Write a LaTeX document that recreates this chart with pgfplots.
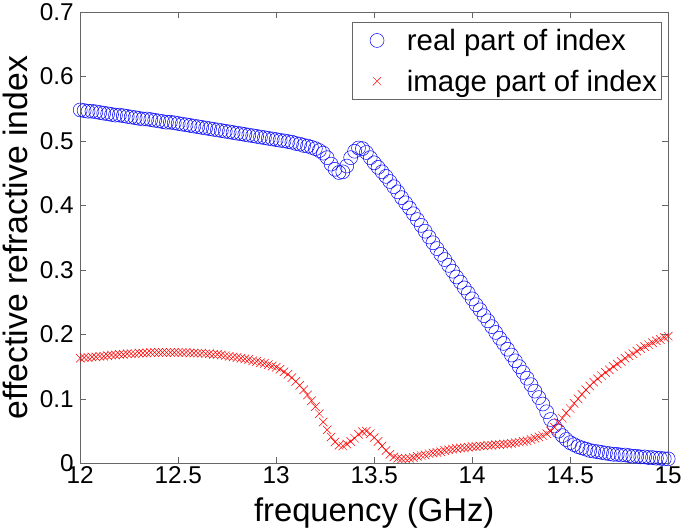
\documentclass[border=0pt]{standalone}
\usepackage{pgfplots}
\pgfplotsset{compat=1.18}
\usepackage{pgfplotstable}
\usepackage{fontspec}
\setmainfont{Liberation Sans}
\pgfplotstableread{
x re im
12.00 0.548 0.163
12.02 0.547 0.164
12.04 0.546 0.164
12.06 0.546 0.165
12.08 0.545 0.165
12.10 0.544 0.166
12.12 0.543 0.166
12.14 0.542 0.167
12.16 0.541 0.168
12.18 0.540 0.168
12.20 0.540 0.169
12.22 0.539 0.169
12.24 0.538 0.170
12.26 0.537 0.170
12.28 0.536 0.170
12.30 0.535 0.171
12.32 0.534 0.171
12.34 0.534 0.171
12.36 0.533 0.172
12.38 0.532 0.172
12.40 0.531 0.172
12.42 0.530 0.172
12.44 0.529 0.172
12.46 0.529 0.172
12.48 0.528 0.172
12.50 0.527 0.172
12.52 0.526 0.172
12.54 0.525 0.172
12.56 0.524 0.171
12.58 0.523 0.171
12.60 0.522 0.171
12.62 0.521 0.171
12.64 0.520 0.170
12.66 0.519 0.170
12.68 0.518 0.169
12.70 0.517 0.169
12.72 0.516 0.168
12.74 0.515 0.167
12.76 0.514 0.166
12.78 0.513 0.165
12.80 0.512 0.164
12.82 0.511 0.163
12.84 0.510 0.162
12.86 0.509 0.161
12.88 0.508 0.159
12.90 0.507 0.158
12.92 0.506 0.156
12.94 0.505 0.155
12.96 0.504 0.153
12.98 0.503 0.151
13.00 0.502 0.149
13.02 0.501 0.146
13.04 0.500 0.142
13.06 0.499 0.138
13.08 0.498 0.133
13.10 0.496 0.127
13.12 0.495 0.121
13.14 0.493 0.114
13.16 0.492 0.106
13.18 0.490 0.097
13.20 0.488 0.088
13.22 0.485 0.077
13.24 0.481 0.064
13.26 0.474 0.052
13.28 0.464 0.041
13.30 0.456 0.033
13.32 0.451 0.028
13.34 0.452 0.027
13.36 0.461 0.030
13.38 0.474 0.034
13.40 0.484 0.039
13.42 0.489 0.045
13.44 0.488 0.049
13.46 0.482 0.050
13.48 0.474 0.046
13.50 0.466 0.040
13.52 0.459 0.034
13.54 0.452 0.027
13.56 0.445 0.020
13.58 0.437 0.014
13.60 0.429 0.010
13.62 0.421 0.008
13.64 0.412 0.007
13.66 0.404 0.007
13.68 0.396 0.008
13.70 0.387 0.009
13.72 0.378 0.011
13.74 0.369 0.012
13.76 0.360 0.013
13.78 0.351 0.015
13.80 0.342 0.016
13.82 0.333 0.017
13.84 0.324 0.018
13.86 0.316 0.020
13.88 0.307 0.021
13.90 0.298 0.022
13.92 0.289 0.023
13.94 0.281 0.024
13.96 0.272 0.024
13.98 0.264 0.025
14.00 0.255 0.026
14.02 0.246 0.026
14.04 0.238 0.027
14.06 0.229 0.027
14.08 0.221 0.028
14.10 0.212 0.028
14.12 0.203 0.029
14.14 0.194 0.029
14.16 0.186 0.030
14.18 0.177 0.030
14.20 0.168 0.031
14.22 0.159 0.032
14.24 0.150 0.033
14.26 0.141 0.034
14.28 0.132 0.035
14.30 0.122 0.037
14.32 0.112 0.039
14.34 0.102 0.041
14.36 0.092 0.043
14.38 0.080 0.046
14.40 0.068 0.050
14.42 0.058 0.056
14.44 0.050 0.063
14.46 0.043 0.070
14.48 0.037 0.078
14.50 0.032 0.085
14.52 0.029 0.093
14.54 0.026 0.100
14.56 0.024 0.107
14.58 0.022 0.114
14.60 0.020 0.120
14.62 0.019 0.126
14.64 0.018 0.131
14.66 0.017 0.136
14.68 0.016 0.141
14.70 0.015 0.145
14.72 0.014 0.150
14.74 0.014 0.154
14.76 0.013 0.158
14.78 0.013 0.163
14.80 0.012 0.167
14.82 0.011 0.170
14.84 0.011 0.174
14.86 0.010 0.178
14.88 0.010 0.181
14.90 0.009 0.184
14.92 0.009 0.187
14.94 0.008 0.190
14.96 0.008 0.192
14.98 0.007 0.195
15.00 0.007 0.197
}\data
\begin{document}
\begin{tikzpicture}
\begin{axis}[
  scale only axis, width=590bp, height=453bp,
  xmin=12, xmax=15, ymin=0, ymax=0.7,
  xtick={12,12.5,13,13.5,14,14.5,15},
  ytick={0,0.1,0.2,0.3,0.4,0.5,0.6,0.7},
  tick align=inside, tick pos=both,
  major tick length=6bp,
  axis line style={gray!80!black, line width=0.5bp},
  tick style={gray!80!black, line width=0.5bp},
  tick label style={font=\fontsize{24.5}{28}\selectfont, text=black},
  /pgf/number format/assume math mode=true,
  yticklabel style={/pgf/number format/fixed, /pgf/number format/precision=1, xshift=-3bp},
  xticklabel style={/pgf/number format/fixed},
  xlabel={frequency (GHz)}, ylabel={effective refractive index},
  xlabel style={font=\fontsize{33}{36}\selectfont, yshift=-7bp},
  ylabel style={font=\fontsize{34}{38}\selectfont, yshift=5bp},
  legend cell align=left,
  legend image code/.code={\path[draw=none] (0bp,0bp) -- (51bp,0bp); \draw[#1] plot coordinates {(23bp,0bp)};},
  legend style={at={(rel axis cs:0.988,0.978)}, anchor=north east, draw=gray!80!black, line width=0.5bp,
    font=\fontsize{29.6}{32}\selectfont, inner xsep=2bp, inner ysep=5bp, row sep=14bp},
]
\addplot[only marks, mark=o, mark size=7bp, color=blue, mark options={line width=0.5bp}] table[x=x, y=re] {\data};
\addlegendentry{real part of index}
\addplot[only marks, mark=x, mark size=6bp, color=red, mark options={line width=0.5bp}] table[x=x, y=im] {\data};
\addlegendentry{image part of index}
\end{axis}
\end{tikzpicture}
\end{document}
